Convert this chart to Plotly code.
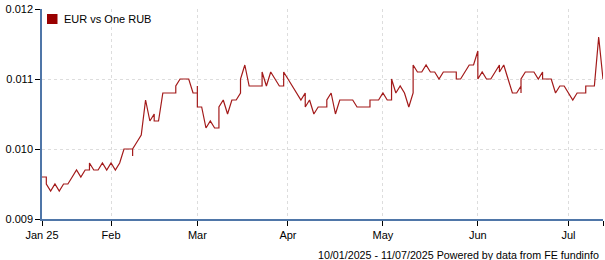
import pandas as pd
import plotly.graph_objects as go

# ---- data -------------------------------------------------------------
series_name = "EUR vs One RUB"
start_date, end_date = "2025-01-10", "2025-07-11"
business_days = [d.strftime("%Y-%m-%d") for d in pd.bdate_range(start_date, end_date)]

# EUR per one RUB, one entry per business day (tuples = several readings on one day)
rates = [
    0.0096, (0.0096, 0.0095), 0.0094, 0.0095, 0.0094, 0.0095, 0.0095, 0.0096, 0.0097, 0.0096,
    0.0097, (0.0097, 0.0098), 0.0097, 0.0097, 0.0098, 0.0097, 0.0098, 0.0097, 0.0098, 0.0100,
    0.0100, (0.0100, 0.0099, 0.0100), 0.0101, 0.0102, 0.0107, 0.0104, (0.0105, 0.0104), 0.0104, 0.0108, 0.0108,
    0.0108, (0.0108, 0.0109), 0.0110, 0.0110, 0.0110, 0.0108, (0.0108, 0.0109, 0.0106), 0.0106, 0.0103, 0.0104,
    0.0103, (0.0103, 0.0106), 0.0107, 0.0105, 0.0107, 0.0107, (0.0108, 0.0110), 0.0112, 0.0109, 0.0109,
    0.0109, (0.0109, 0.0111), 0.0109, 0.0111, 0.0110, 0.0109, (0.0109, 0.0111), 0.0110, 0.0109, 0.0108,
    0.0107, (0.0108, 0.0106), 0.0107, 0.0105, 0.0106, 0.0106, (0.0106, 0.0107), 0.0108, 0.0105, 0.0107,
    0.0107, 0.0107, 0.0107, 0.0106, 0.0106, 0.0106, (0.0106, 0.0107), 0.0107, 0.0107, 0.0108,
    0.0107, (0.0107, 0.0110), 0.0108, 0.0109, 0.0108, 0.0106, (0.0108, 0.0112), 0.0111, 0.0111, 0.0112,
    0.0111, 0.0111, 0.0110, 0.0111, 0.0111, 0.0111, (0.0111, 0.0110), 0.0110, 0.0111, 0.0112,
    0.0112, (0.0114, 0.0110), 0.0111, 0.0110, 0.0110, 0.0111, (0.0112, 0.0111), 0.0112, 0.0110, 0.0108,
    0.0108, (0.0109, 0.0108, 0.0110), 0.0111, 0.0111, 0.0111, 0.0110, (0.0111, 0.0110), 0.0110, 0.0110, 0.0108,
    0.0109, 0.0109, 0.0108, 0.0107, 0.0108, 0.0108, (0.0108, 0.0109), 0.0109, 0.0109, 0.0116,
    0.0110,
]

y_ticks = [0.009, 0.010, 0.011, 0.012]
y_tick_labels = ["0.009", "0.010", "0.011", "0.012"]
y_grid = [0.010, 0.011]
x_ticks = ["2025-01-10", "2025-02-03", "2025-03-03", "2025-04-01", "2025-05-01",
           "2025-06-02", "2025-07-01", "2025-07-11"]
x_tick_labels = ["Jan 25", "Feb", "Mar", "Apr", "May", "Jun", "Jul", ""]
x_grid = x_ticks[1:-1]
footer = "10/01/2025 - 11/07/2025 Powered by data from FE fundinfo"

# ---- expand -----------------------------------------------------------
xs, ys = [], []
for day, val in zip(business_days, rates):
    vals = val if isinstance(val, tuple) else (val,)
    for v in vals:
        xs.append(day)
        ys.append(v)

LINE = "#A31A1A"
SWATCH = "#990000"
AXIS = "#4F76A8"
GRID = "#DDDDDD"
FONT = "Liberation Sans, Arial, sans-serif"

fig = go.Figure()
fig.add_trace(go.Scatter(x=xs, y=ys, mode="lines", name=series_name,
                         line=dict(color=LINE, width=1.2), showlegend=False))

fig.update_layout(
    width=605, height=260,
    margin=dict(l=42, r=2, t=9, b=41),
    paper_bgcolor="white", plot_bgcolor="white",
    font=dict(family=FONT, size=11, color="#000000"),
    showlegend=False,
)
fig.update_xaxes(
    type="date",
    range=[start_date, end_date],
    rangebreaks=[dict(bounds=["sat", "mon"])],
    tickmode="array", tickvals=x_ticks, ticktext=x_tick_labels,
    ticks="outside", ticklen=5, tickcolor="#000000", tickwidth=1,
    showline=True, linecolor=AXIS, linewidth=1.5,
    showgrid=False,
    minor=dict(tickmode="array", tickvals=x_grid, showgrid=True, gridcolor=GRID,
               griddash="dot", gridwidth=1, ticks=""),
    zeroline=False,
    tickfont=dict(family=FONT, size=11, color="#000000"),
)
fig.update_yaxes(
    range=[0.009, 0.012],
    tickmode="array", tickvals=y_ticks, ticktext=y_tick_labels,
    ticks="outside", ticklen=5, tickcolor="#000000", tickwidth=1,
    showline=True, linecolor=AXIS, linewidth=1.5,
    showgrid=False,
    minor=dict(tickmode="array", tickvals=y_grid, showgrid=True, gridcolor=GRID,
               griddash="dot", gridwidth=1, ticks=""),
    zeroline=False,
    tickfont=dict(family=FONT, size=11, color="#000000"),
)

# legend (swatch + label)
fig.add_shape(type="rect", xref="paper", yref="paper",
              x0=5 / 561, x1=15.5 / 561, y0=1 - 15 / 210, y1=1 - 5 / 210,
              fillcolor=SWATCH, line=dict(width=0))
fig.add_annotation(text=series_name, xref="paper", yref="paper",
                   x=20 / 561, y=1 - 10 / 210, xanchor="left", yanchor="middle",
                   showarrow=False, font=dict(family=FONT, size=11, color="#000000"))
# footer
fig.add_annotation(text=footer, xref="paper", yref="paper",
                   x=(601 - 42) / 561, y=-35.5 / 210, xanchor="right", yanchor="middle",
                   showarrow=False, font=dict(family=FONT, size=10.7, color="#000000"))

fig.write_html("out.html")
